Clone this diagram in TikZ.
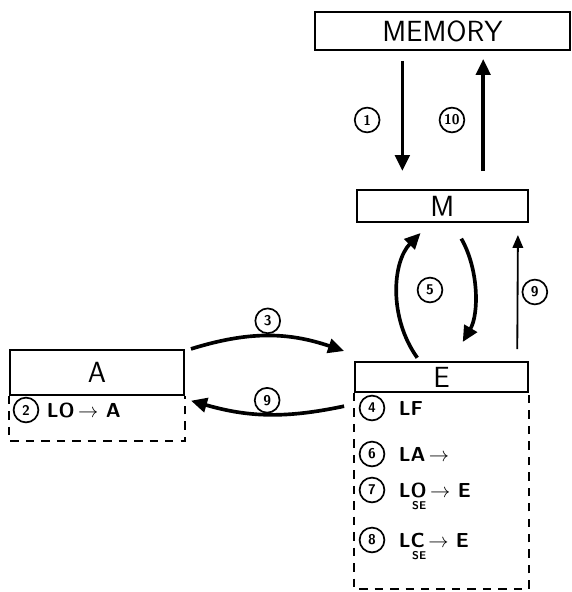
\documentclass[tikz,border=0pt]{standalone}
\usepackage{amsmath}
\usetikzlibrary{arrows.meta,positioning,calc}

\begin{document}
\begin{tikzpicture}[
    box/.style={rectangle, draw, line width=1.4pt, inner sep=0pt, font=\sffamily\huge},
    regs/.style={draw, line width=1.2pt, dash pattern=on 6pt off 5pt},
    num/.style={circle, draw, line width=1.2pt, inner sep=0pt, minimum size=0.62cm, font=\sffamily\bfseries},
    op/.style={anchor=west, font=\sffamily\Large\bfseries, inner sep=1pt},
    sub/.style={font=\sffamily\footnotesize\bfseries, inner sep=0pt},
    arrow/.style={-{Triangle[length=4mm, width=3.6mm]}, line width=2.6pt},
    thinarrow/.style={-{Triangle[length=3.2mm, width=2.6mm]}, line width=1.3pt}
]
    \useasboundingbox (0,0) rectangle (14.3,-14.8);

    % the units
    \node[box, minimum width=6.375cm, minimum height=0.95cm] (mem) at (11.06,-0.775) {MEMORY};
    \node[box, minimum width=4.275cm, minimum height=0.8cm] (m) at (11.06,-5.15) {M};
    \node[box, minimum width=4.325cm, minimum height=0.75cm] (e) at (11.04,-9.425) {E};
    \node[box, minimum width=4.35cm, minimum height=1.125cm] (a) at (2.425,-9.31) {A};

    % register transfers below A and E
    \draw[regs] (a.south west) -- ++(0,-1.125) -| (a.south east);
    \draw[regs] (e.south west) -- ++(0,-4.9) -| (e.south east);

    \node[num] (n2) at (0.65,-10.25) {2};
    \node[op, right=0.15cm of n2] (op2) {LO$\,\rightarrow$ A};

    \node[num] (n4) at (9.3,-10.2) {4};
    \node[op, right=0.3cm of n4] (op4) {LF};
    \node[num] (n6) at (9.3,-11.35) {6};
    \node[op, right=0.3cm of n6] (op6) {LA$\,\rightarrow$};
    \node[num] (n7) at (9.3,-12.25) {7};
    \node[op, right=0.3cm of n7] (op7) {LO$\,\rightarrow$ E};
    \node[sub, below=0.05cm of op7.south west, xshift=0.55cm] (se7) {SE};
    \node[num] (n8) at (9.3,-13.5) {8};
    \node[op, right=0.3cm of n8] (op8) {LC$\,\rightarrow$ E};
    \node[sub, below=0.05cm of op8.south west, xshift=0.55cm] (se8) {SE};

    % memory traffic
    \draw[arrow, shorten <=0.25cm, shorten >=0.45cm] ([xshift=-1cm]mem.south) -- node[num, left=0.55cm] (n1) {1} ([xshift=-1cm]m.north);
    \draw[arrow, shorten <=0.45cm, shorten >=0.2cm] ([xshift=1.02cm]m.north) -- node[num, left=0.45cm] (n10) {10} ([xshift=1.02cm]mem.south);

    % between M and E
    \draw[arrow, shorten <=0.1cm, shorten >=0.35cm] ([xshift=-0.55cm]e.north) to[bend left=40] ([xshift=-0.3cm]m.south);
    \draw[arrow, shorten <=0.45cm, shorten >=0.55cm] ([xshift=0.25cm]m.south) to[bend left=30] ([xshift=0.25cm]e.north);
    \node[num] (n5) at (10.75,-7.25) {5};
    \draw[thinarrow, shorten <=0.3cm, shorten >=0.3cm] ([xshift=1.89cm]e.north) -- node[num, right=0.1cm] (n9b) {9} ([xshift=1.89cm]m.south);

    % between A and E
    \draw[arrow] ([xshift=0.15cm]a.north east) to[bend left=18] node[num, above=0.05cm] (n3) {3} ([xshift=-0.25cm,yshift=0.25cm]e.north west);
    \draw[arrow] ([xshift=-0.25cm,yshift=-0.33cm]e.south west) to[bend left=14] node[num, above=0.02cm] (n9) {9} ([xshift=0.15cm,yshift=-0.12cm]a.south east);
\end{tikzpicture}
\end{document}
